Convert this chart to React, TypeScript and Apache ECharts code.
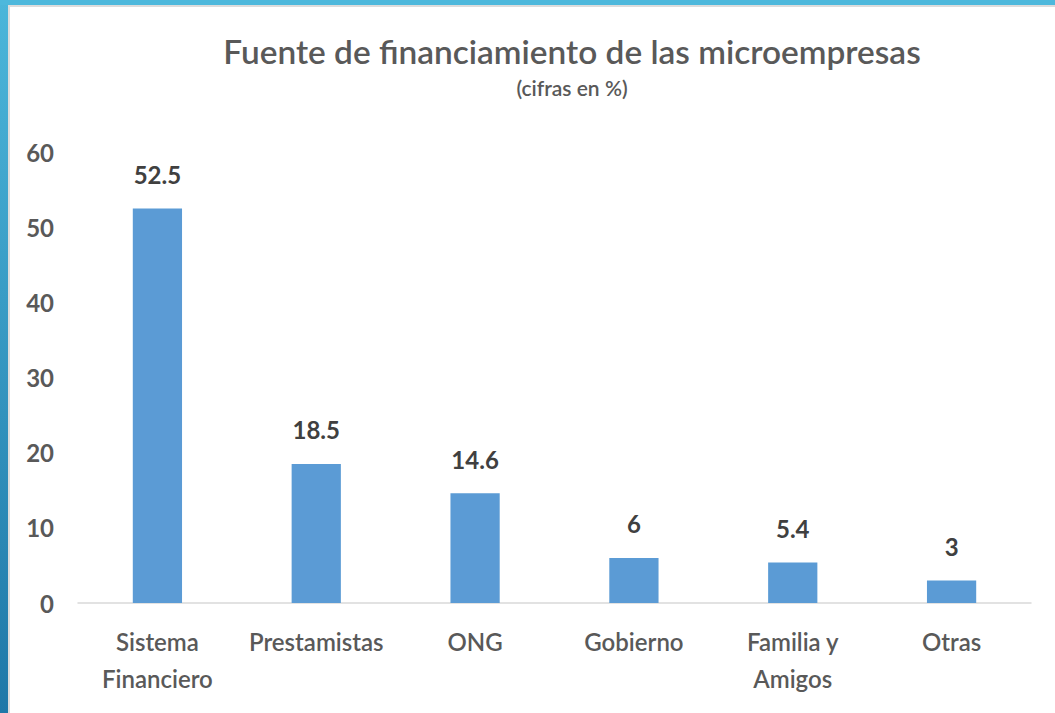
import React, { useEffect, useRef } from "react";
import * as echarts from "echarts";

const categories = ["Sistema\nFinanciero", "Prestamistas", "ONG", "Gobierno", "Familia y\nAmigos", "Otras"];
const values = [52.5, 18.5, 14.6, 6, 5.4, 3];
const titleText = "Fuente de financiamiento de las microempresas";
const subtitleText = "(cifras en %)";

const FONT = "Lato, 'Open Sans', sans-serif";

export default function App() {
  const ref = useRef<HTMLDivElement>(null);
  useEffect(() => {
    if (!ref.current) return;
    const chart = echarts.init(ref.current, undefined, { renderer: "svg" });
    chart.setOption({
      animation: false,
      backgroundColor: "#ffffff",
      graphic: [
        {
          type: "rect",
          shape: { x: 0, y: 0, width: 8, height: 713 },
          style: {
            fill: new echarts.graphic.LinearGradient(0, 0, 0, 1, [
              { offset: 0, color: "#4cb6da" },
              { offset: 1, color: "#1f78a8" },
            ]),
          },
          z: 10,
        },
        { type: "rect", shape: { x: 0, y: 0, width: 1055, height: 5 }, style: { fill: "#4db8dc" }, z: 10 },
        { type: "rect", shape: { x: 8, y: 5, width: 2, height: 708 }, style: { fill: "#dcdcdc" }, z: 9 },
        { type: "rect", shape: { x: 8, y: 5, width: 1047, height: 2 }, style: { fill: "#dcdcdc" }, z: 9 },
      ],
      title: {
        text: titleText,
        subtext: subtitleText,
        left: 567,
        top: 29,
        textAlign: "center",
        itemGap: 10,
        textStyle: { fontFamily: FONT, fontSize: 33.4, fontWeight: 600, color: "#595959" },
        subtextStyle: { fontFamily: FONT, fontSize: 21, fontWeight: 600, color: "#595959" },
      },
      grid: { left: 78, right: 24, top: 152, bottom: 110, containLabel: false },
      xAxis: {
        type: "category",
        data: categories,
        axisLine: { show: true, lineStyle: { color: "#d9d9d9", width: 1.5 } },
        axisTick: { show: false },
        axisLabel: {
          interval: 0,
          color: "#595959",
          fontFamily: FONT,
          fontSize: 24,
          fontWeight: 600,
          margin: 20,
          lineHeight: 37,
          verticalAlign: "top",
        },
      },
      yAxis: {
        type: "value",
        min: 0,
        max: 60,
        interval: 10,
        axisLine: { show: false },
        axisTick: { show: false },
        splitLine: { show: false },
        axisLabel: { color: "#595959", fontFamily: FONT, fontSize: 24, fontWeight: 700, margin: 24 },
      },
      series: [
        {
          type: "bar",
          data: values,
          barWidth: "31%",
          itemStyle: { color: "#5b9bd5" },
          label: {
            show: true,
            position: "top",
            distance: 22,
            color: "#404040",
            fontFamily: FONT,
            fontSize: 24,
            fontWeight: 700,
          },
        },
      ],
    });
    return () => chart.dispose();
  }, []);
  return <div ref={ref} style={{ position: "fixed", left: 0, top: 0, width: 1055, height: 713 }} />;
}
